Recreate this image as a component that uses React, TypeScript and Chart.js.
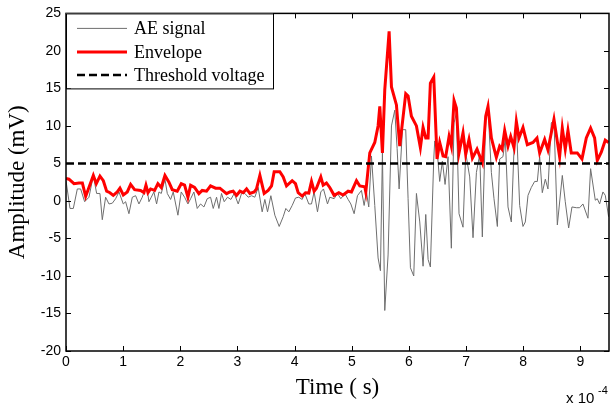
import React, { useEffect, useRef } from 'react';
import { Chart, registerables } from 'chart.js';

Chart.register(...registerables);

// ---- data (time in units of 1e-4 s, amplitude in mV) ----
const xTicks = [0, 1, 2, 3, 4, 5, 6, 7, 8, 9];
const yTicks = [-20, -15, -10, -5, 0, 5, 10, 15, 20, 25];
const xRange = [0, 9.5];
const yRange = [-20, 25];
const xLabel = 'Time ( s)';
const yLabel = 'Amplitude (mV)';
const exponentBase = 'x 10';
const exponentPower = '-4';
const seriesNames = ['AE signal', 'Envelope', 'Threshold voltage'];

const thresholdTime = [0, 9.5];
const thresholdValue = [5, 5];

const aeTime = [
  0, 0.07, 0.128, 0.198, 0.256, 0.326, 0.402, 0.478, 0.536, 0.594, 0.635, 0.693, 0.752, 0.81, 0.868, 0.927,
  1.002, 1.043, 1.101, 1.16, 1.218, 1.276, 1.334, 1.41, 1.451, 1.492, 1.538, 1.585, 1.626, 1.667, 1.731, 1.772,
  1.83, 1.876, 1.958, 2.016, 2.075, 2.133, 2.18, 2.238, 2.296, 2.354, 2.413, 2.471, 2.529, 2.576, 2.634,
  2.675, 2.721, 2.768, 2.826, 2.885, 2.943, 3.013, 3.071, 3.129, 3.188, 3.246, 3.304, 3.362, 3.432, 3.479,
  3.526, 3.584, 3.654, 3.73, 3.8, 3.846, 3.899, 3.957, 4.015, 4.073, 4.132, 4.178, 4.248, 4.295, 4.341, 4.4,
  4.458, 4.505, 4.575, 4.615, 4.691, 4.749, 4.808, 4.878, 4.936, 4.983, 5.041, 5.099, 5.169, 5.216, 5.256, 5.297,
  5.344, 5.402, 5.46, 5.501, 5.536, 5.577, 5.635, 5.694, 5.752, 5.793, 5.828, 5.886, 5.944, 5.985, 6.026, 6.084,
  6.131, 6.189, 6.247, 6.294, 6.335, 6.375, 6.434, 6.451, 6.492, 6.538, 6.585, 6.632, 6.684, 6.742, 6.789, 6.83,
  6.876, 6.946, 6.993, 7.063, 7.121, 7.18, 7.238, 7.284, 7.343, 7.383,
  7.442, 7.488, 7.547, 7.587, 7.645, 7.686, 7.733, 7.791, 7.838, 7.879, 7.937, 7.995, 8.036, 8.083, 8.141, 8.199,
  8.246, 8.287, 8.333, 8.386, 8.432, 8.491, 8.537, 8.596, 8.683, 8.735, 8.794, 8.852, 8.928, 8.986, 9.044, 9.132,
  9.178, 9.26, 9.295, 9.336, 9.394, 9.435, 9.493,
];
const aeSignal = [
  2.7, -1.0, -1.0, 1.6, 1.6, -0.1, 0.5, 3.4, 1.0, 1.0, -2.5, 0.5, -0.4, -0.3, 0.3, 1.2,
  -0.4, -0.1, -1.7, 0.5, 0.7, -0.4, 0.5, 2.1, -0.1, 0.5, 1.2, -0.4, 1.2, 1.0, 2.9, 1.0,
  0.2, 1.2, -1.9, 1.2, 0.5, -0.4, 0.3, 1.2, -1.0, -0.4, -0.8, 0.3, 0.5, -1.0, 0.5,
  -1.0, 1.0, -0.1, 0.5, 0.2, 1.0, -0.4, 1.0, 1.0, 0.5, 0.7, 0.5, 1.8, -1.45, 0.2,
  -1.45, 0.7, -1.9, -3.4, -2.1, -1.0, -1.45, -0.6, 0.4, 0.5, 0.2, 1.0, -0.4, -0.4, 1.2, -1.45,
  1.2, 1.6, -0.4, 0.5, 0.3, 1.0, 0.3, 1.0, 0.2, -0.4, -1.7, 0.7, 1.4, -0.6, 1.2, -0.8,
  6.0, -0.6, -7.6, -9.3, 6.4, -14.6, -7.2, 10.0, 12.1, 7.0, 1.6, 9.5, 9.5, 0.3, -8.9, -10.0,
  1.0, -2.8, -8.7, -1.8, -7.8, -8.8, 5.6, 8.0, 6.8, 2.6, 5.3, 2.2, 5.9, -6.3, 10.4, 11.7,
  -1.7, -3.5, 6.4, 3.2, -4.9, 3.8, 6.2, -4.8, 10.8, 12.4,
  3.8, 0.3, -3.4, 5.6, 5.9, 8.4, -0.8, -2.8, 6.9, 10.4, -0.6, -3.4, -2.8, 0.75, 1.8, 2.6,
  2.6, 5.9, 1.1, 2.9, 1.6, 10.4, 10.8, -3.2, 3.4, -0.1, -3.6, -0.8, -0.9, -0.9, -0.4, -2.3,
  4.3, 0.1, 0.3, -0.4, 1.2, 0.75, -2.1,
];

const envTime = [
  0, 0.052, 0.14, 0.227, 0.286, 0.344, 0.478, 0.53, 0.594, 0.653, 0.711, 0.769, 0.827, 0.897, 0.944, 1.002,
  1.072, 1.131, 1.2, 1.305, 1.364, 1.399, 1.434, 1.48, 1.55, 1.608, 1.667, 1.731, 1.801, 1.859, 1.946, 2.016,
  2.075, 2.133, 2.18, 2.249, 2.325, 2.383, 2.459, 2.529, 2.617, 2.692, 2.809, 2.867, 2.925, 2.984, 3.042, 3.1,
  3.159, 3.217, 3.293, 3.333, 3.392, 3.467, 3.537, 3.596, 3.642, 3.741, 3.8, 3.858, 3.957, 4.015, 4.062, 4.132,
  4.19, 4.248, 4.295, 4.341, 4.382, 4.458, 4.499, 4.557, 4.615, 4.691, 4.773, 4.848, 4.936, 4.994, 5.082, 5.14,
  5.227, 5.245, 5.315, 5.402, 5.46, 5.49, 5.536, 5.577, 5.653, 5.694, 5.781, 5.839, 5.944, 5.985, 6.043, 6.131,
  6.2, 6.247, 6.294, 6.335, 6.375, 6.434, 6.492, 6.538, 6.597, 6.643, 6.702, 6.742, 6.789, 6.83, 6.876, 6.946,
  6.993, 7.051, 7.11, 7.191, 7.284, 7.343, 7.383, 7.442, 7.529, 7.587, 7.628, 7.675, 7.733, 7.78, 7.838, 7.879,
  7.925, 7.995, 8.071, 8.17, 8.24, 8.287, 8.374, 8.432, 8.537, 8.636, 8.683, 8.735, 8.782, 8.84, 8.945, 9.027,
  9.103, 9.178, 9.248, 9.295, 9.365, 9.435, 9.493,
];
const envelope = [
  3.0, 2.9, 2.3, 2.4, 2.4, 0.6, 3.4, 2.3, 3.3, 2.7, 1.3, 1.1, 0.75, 1.2, 1.7, 0.8,
  1.2, 2.2, 1.5, 1.4, 1.1, 2.1, 1.1, 1.6, 1.4, 2.3, 1.8, 3.4, 2.5, 1.5, 1.3, 2.3,
  2.1, 0.5, 2.1, 1.8, 0.97, 1.4, 1.3, 2.0, 1.7, 1.7, 0.97, 1.2, 1.3, 0.75, 1.3, 1.1,
  1.6, 1.0, 1.2, 1.6, 3.4, 1.0, 1.4, 2.0, 3.9, 3.9, 3.2, 2.0, 2.7, 2.3, 1.1, 0.65,
  1.1, 1.05, 2.6, 1.3, 1.7, 3.2, 2.1, 2.4, 1.8, 0.75, 1.1, 0.8, 1.3, 1.2, 2.7, 2.0,
  1.9, 1.2, 6.4, 7.8, 10.0, 12.6, 6.4, 14.8, 22.6, 15.2, 12.8, 7.3, 14.3, 14.0, 11.3, 10.0,
  7.1, 9.8, 8.4, 8.4, 15.7, 16.5, 5.6, 7.8, 6.0, 5.9, 8.6, 7.3, 13.4, 12.4, 6.4, 9.1,
  6.2, 8.2, 5.7, 6.9, 5.1, 11.3, 12.6, 8.4, 5.8, 7.3, 6.9, 9.4, 7.3, 8.6, 7.1, 10.6,
  8.4, 9.8, 7.5, 7.8, 8.4, 6.4, 8.2, 6.8, 10.9, 5.9, 9.7, 6.9, 9.4, 6.4, 6.4, 5.6,
  8.4, 9.7, 8.4, 5.4, 6.5, 8.1, 7.8,
];

const toPoints = (xs: number[], ys: number[]) => xs.map((x, i) => ({ x, y: ys[i] }));

const SANS = 'Liberation Sans';
const SERIF = 'Liberation Serif';

const framePlugin = {
  id: 'matlabFrame',
  afterDatasetsDraw(chart: any) {
    const { ctx, chartArea, scales } = chart;
    const { left, right, top, bottom } = chartArea;
    const tickLen = 5;
    ctx.save();
    ctx.strokeStyle = '#000';
    ctx.lineWidth = 1;
    ctx.beginPath();
    xTicks.forEach((v) => {
      const px = Math.round(scales.x.getPixelForValue(v)) + 0.5;
      ctx.moveTo(px, bottom);
      ctx.lineTo(px, bottom - tickLen);
      ctx.moveTo(px, top);
      ctx.lineTo(px, top + tickLen);
    });
    yTicks.forEach((v) => {
      const py = Math.round(scales.y.getPixelForValue(v)) + 0.5;
      ctx.moveTo(left, py);
      ctx.lineTo(left + tickLen, py);
      ctx.moveTo(right, py);
      ctx.lineTo(right - tickLen, py);
    });
    ctx.stroke();
    ctx.lineWidth = 1.5;
    ctx.strokeRect(left, top, right - left, bottom - top);
    ctx.restore();
  },
  afterDraw(chart: any) {
    const { ctx, chartArea } = chart;
    const { left, top } = chartArea;
    // legend box
    const bx = left;
    const by = top;
    const bw = 207;
    const bh = 75;
    ctx.save();
    ctx.fillStyle = '#fff';
    ctx.fillRect(bx, by, bw, bh);
    ctx.strokeStyle = '#000';
    ctx.lineWidth = 1;
    ctx.strokeRect(bx + 0.5, by + 0.5, bw, bh);
    const rowY = [15, 38.5, 61.5];
    const order = [0, 1, 2];
    order.forEach((dsIndex, r) => {
      const ds = chart.data.datasets[dsIndex];
      const y = by + rowY[r];
      ctx.beginPath();
      ctx.strokeStyle = ds.borderColor;
      ctx.lineWidth = ds.borderWidth;
      ctx.setLineDash(ds.borderDash || []);
      ctx.moveTo(bx + 11, y);
      ctx.lineTo(bx + 61, y);
      ctx.stroke();
      ctx.setLineDash([]);
      ctx.fillStyle = '#000';
      ctx.font = `18px "${SERIF}"`;
      ctx.textBaseline = 'middle';
      ctx.textAlign = 'left';
      ctx.fillText(seriesNames[r], bx + 68, y + 1);
    });
    // exponent label
    ctx.fillStyle = '#000';
    ctx.textBaseline = 'alphabetic';
    ctx.textAlign = 'left';
    ctx.font = `15px "${SANS}"`;
    ctx.fillText(exponentBase, 566, 403);
    ctx.font = `11px "${SANS}"`;
    ctx.fillText(exponentPower, 598, 394);
    ctx.restore();
  },
};

export default function App() {
  const canvasRef = useRef<HTMLCanvasElement | null>(null);

  useEffect(() => {
    document.body.style.margin = '0';
    const canvas = canvasRef.current;
    if (!canvas) return;
    const chart = new Chart(canvas, {
      type: 'line',
      data: {
        datasets: [
          {
            label: seriesNames[0],
            data: toPoints(aeTime, aeSignal),
            borderColor: '#6e6e6e',
            borderWidth: 1,
            pointRadius: 0,
            tension: 0,
            order: 3,
          },
          {
            label: seriesNames[1],
            data: toPoints(envTime, envelope),
            borderColor: '#ff0000',
            borderWidth: 3,
            pointRadius: 0,
            tension: 0,
            order: 2,
          },
          {
            label: seriesNames[2],
            data: toPoints(thresholdTime, thresholdValue),
            borderColor: '#000000',
            borderWidth: 2.5,
            borderDash: [8, 4],
            pointRadius: 0,
            tension: 0,
            order: 1,
          },
        ],
      },
      options: {
        responsive: false,
        animation: false,
        events: [],
        layout: { padding: { top: 9, right: 1, bottom: 0, left: 0 } },
        plugins: {
          legend: { display: false },
          tooltip: { enabled: false },
        },
        scales: {
          x: {
            type: 'linear',
            min: xRange[0],
            max: xRange[1],
            afterBuildTicks: (axis: any) => {
              axis.ticks = xTicks.map((v) => ({ value: v }));
            },
            afterFit: (axis: any) => {
              axis.height = 56;
            },
            grid: { display: false, drawTicks: false },
            border: { display: false },
            ticks: {
              color: '#000',
              font: { family: SANS, size: 14 },
              padding: 3,
              maxRotation: 0,
              autoSkip: false,
            },
            title: {
              display: true,
              text: xLabel,
              color: '#000',
              font: { family: SERIF, size: 23 },
              padding: { top: 0, bottom: 5 },
            },
          },
          y: {
            type: 'linear',
            min: yRange[0],
            max: yRange[1],
            afterBuildTicks: (axis: any) => {
              axis.ticks = yTicks.map((v) => ({ value: v }));
            },
            afterFit: (axis: any) => {
              axis.width = 66;
            },
            grid: { display: false, drawTicks: false },
            border: { display: false },
            ticks: {
              color: '#000',
              font: { family: SANS, size: 14 },
              padding: 5,
              autoSkip: false,
            },
            title: {
              display: true,
              text: yLabel,
              color: '#000',
              font: { family: SERIF, size: 23 },
              padding: { top: 4, bottom: 0 },
            },
          },
        },
      },
      plugins: [framePlugin],
    } as any);
    return () => {
      chart.destroy();
    };
  }, []);

  return (
    <div style={{ width: 610, height: 407, background: '#fff' }}>
      <canvas ref={canvasRef} width={610} height={407} style={{ display: 'block' }} />
    </div>
  );
}
